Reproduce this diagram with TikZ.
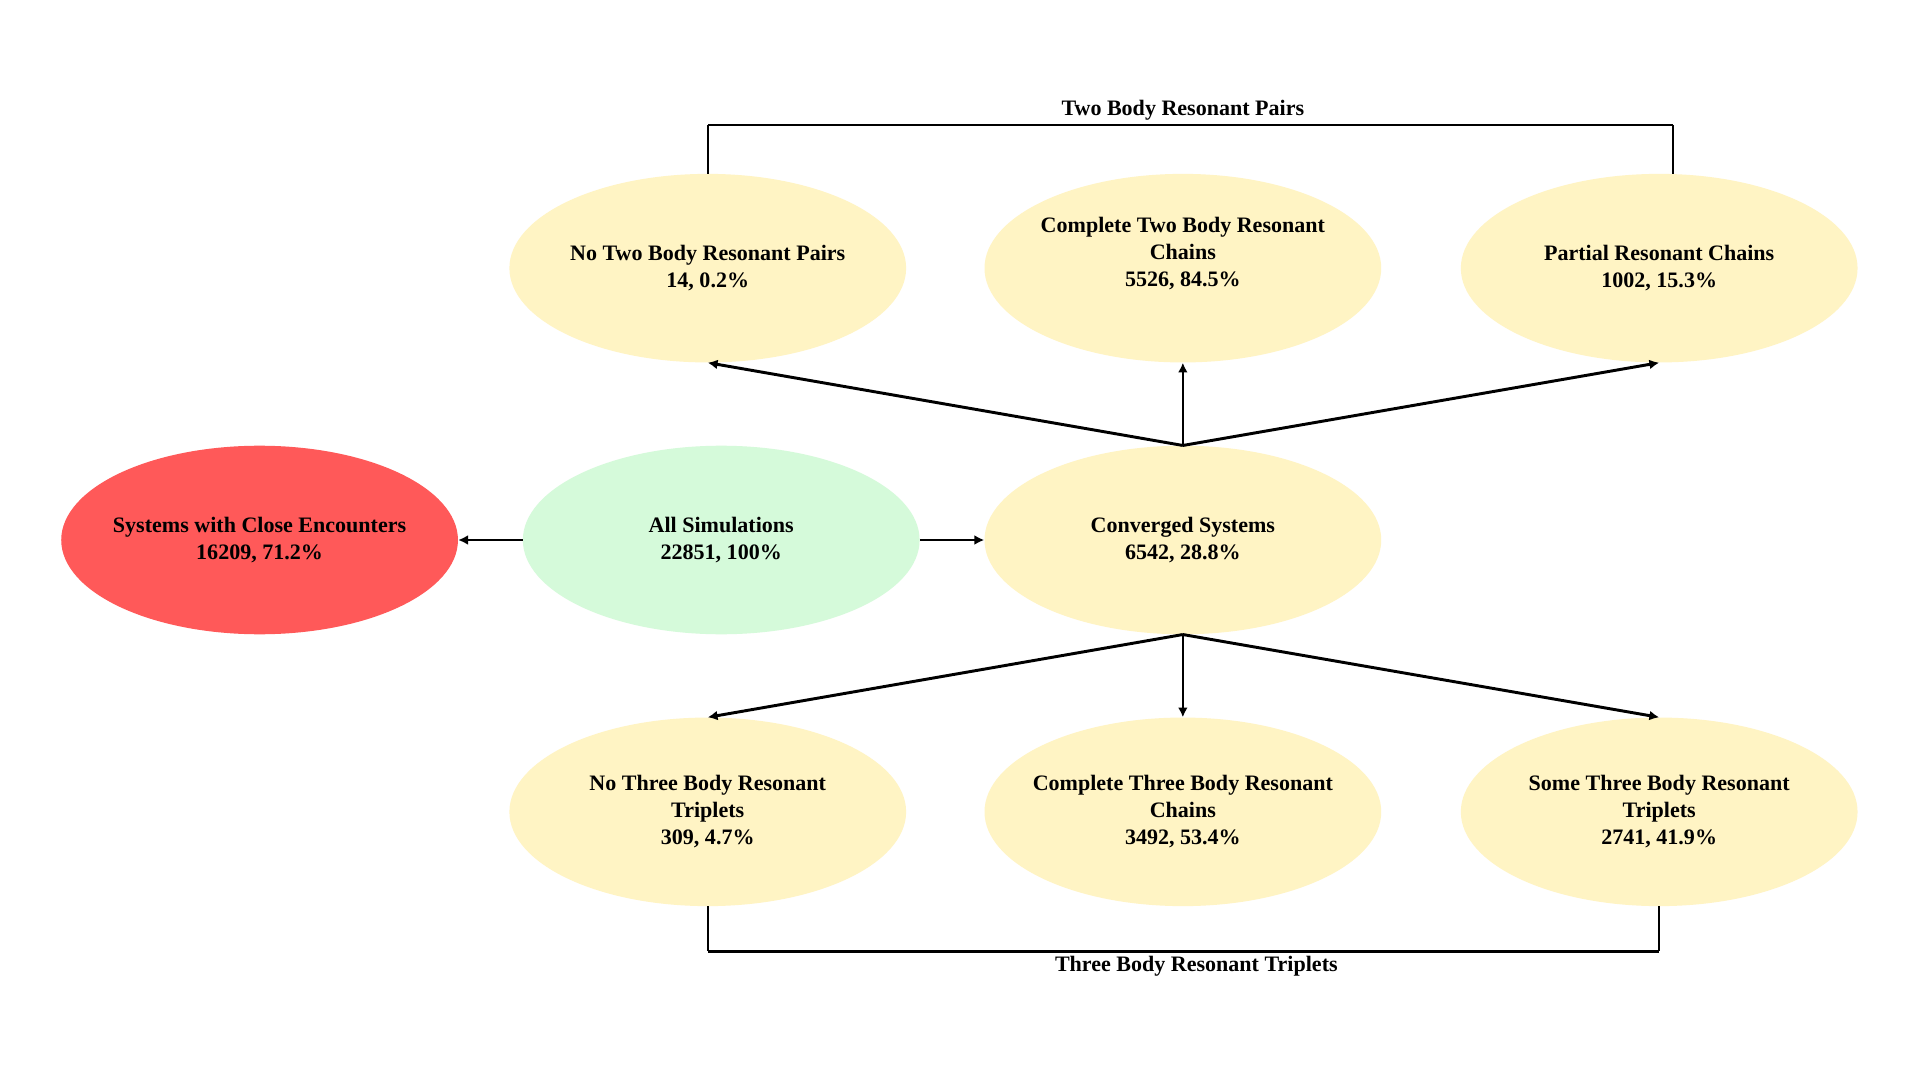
\documentclass[tikz,border=0pt]{standalone}
\usepackage{fontspec}
\setmainfont{Liberation Serif}
\usetikzlibrary{shapes.geometric,arrows.meta}
\definecolor{cered}{RGB}{255,89,89}
\definecolor{allgreen}{RGB}{213,250,218}
\definecolor{cyellow}{RGB}{255,244,196}
\tikzset{
  bubble/.style={ellipse, minimum width=324pt, minimum height=154pt, inner xsep=-25pt, inner ysep=0pt, align=center,
    font=\fontsize{18}{22}\selectfont\bfseries},
  lbl/.style={inner sep=0pt, align=center, font=\fontsize{18}{22}\selectfont\bfseries},
  conn/.style={line width=2.4pt, -{Latex[length=8pt,width=8pt]}},
  brack/.style={line width=2pt}
}
\begin{document}
\begin{tikzpicture}[x=1pt,y=1pt]
\useasboundingbox[fill=white] (0,0) rectangle (1568,-882);
\node[bubble, fill=cered] (ce) at (212,-441) {Systems with Close Encounters\\16209, 71.2\%};
\node[bubble, fill=allgreen] (all) at (589,-441) {All Simulations\\22851, 100\%};
\node[bubble, fill=cyellow] (conv) at (966,-441) {Converged Systems\\6542, 28.8\%};
\node[bubble, fill=cyellow] (nt2) at (578,-219) {No Two Body Resonant Pairs\\14, 0.2\%};
\node[bubble, fill=cyellow] (ct2) at (966,-219) {};
\node[lbl] (ct2t) at (966,-207) {Complete Two Body Resonant\\Chains\\5526, 84.5\%};
\node[bubble, fill=cyellow] (pr) at (1355,-219) {Partial Resonant Chains\\1002, 15.3\%};
\node[bubble, fill=cyellow] (nt3) at (578,-663) {No Three Body Resonant\\Triplets\\309, 4.7\%};
\node[bubble, fill=cyellow] (ct3) at (966,-663) {Complete Three Body Resonant\\Chains\\3492, 53.4\%};
\node[bubble, fill=cyellow] (st3) at (1355,-663) {Some Three Body Resonant\\Triplets\\2741, 41.9\%};
\draw[conn] (all.west) -- (ce.east);
\draw[conn] (all.east) -- (conv.west);
\draw[conn] (conv.north) -- (nt2.south);
\draw[conn, line width=2.2pt] (conv.north) -- (ct2.south);
\draw[conn] (conv.north) -- (pr.south);
\draw[conn] (conv.south) -- (nt3.north);
\draw[conn, line width=2.2pt] (conv.south) -- (ct3.north);
\draw[conn] (conv.south) -- (st3.north);
\coordinate (tl) at (578,-102);
\coordinate (tr) at (1366,-102);
\coordinate (bl) at (578,-777);
\coordinate (br) at (1355,-777);
\draw[line width=1.6pt] (nt2.north) -- (tl);
\draw[line width=1.6pt] (tr) -- ([xshift=11pt]pr.north);
\draw[brack] (tl) -- (tr);
\draw[line width=1.6pt] (nt3.south) -- (bl);
\draw[line width=1.6pt] (br) -- (st3.south);
\draw[brack] (bl) -- (br);
\node[lbl] (tlab) at (966,-90) {Two Body Resonant Pairs};
\node[lbl] (blab) at (977,-789) {Three Body Resonant Triplets};
\end{tikzpicture}
\end{document}
